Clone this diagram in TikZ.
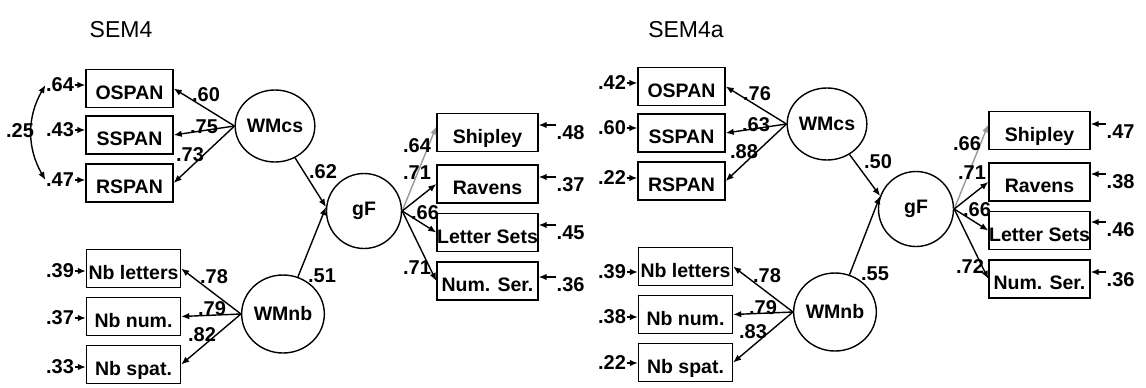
\documentclass[tikz,border=0pt]{standalone}
\usepackage{fontspec}
\setmainfont{Liberation Sans}
\usetikzlibrary{arrows.meta, shapes.geometric}

\begin{document}
\begin{tikzpicture}[x=1pt, y=-1pt, >={Latex[length=8pt,width=6.5pt]}, line width=1.4pt,
          obs/.style={draw, rectangle, inner xsep=0pt, inner ysep=0pt, minimum height=38pt,
                      text height=29.5pt, text depth=8.5pt, font=\fontsize{19.5}{19.5}\bfseries},
          lat/.style={draw, ellipse, inner sep=0pt, font=\fontsize{19.5}{19.5}\bfseries},
          coef/.style={inner sep=0pt, font=\fontsize{20}{20}\bfseries},
          title/.style={inner sep=0pt, font=\fontsize{23}{23}\selectfont}
        ]
        \useasboundingbox (0,0) rectangle (1146,388);

        % both models share the same layout
        \foreach \p/\dx/\dy/\ga in {L/0/0/174, R/552/-2/160}{
          \begin{scope}[shift={(\dx,\dy)}]
            \node[lat, minimum width=77pt, minimum height=72pt] (\p-cs) at (275,126) {WMcs};
            \node[lat, minimum width=78pt, minimum height=78pt] (\p-nb) at (283,314) {WMnb};
            \node[lat, minimum width=75pt, minimum height=75pt] (\p-gf) at (364,211) {gF};

            \node[obs, minimum width=87pt] (\p-os) at (129.5,88.5) {OSPAN};
            \node[obs, minimum width=87pt] (\p-ss) at (129.5,135)  {SSPAN};
            \node[obs, minimum width=87pt] (\p-rs) at (129.5,183)  {RSPAN};
            \node[obs, minimum width=94pt] (\p-nl) at (133.5,268.5) {Nb letters};
            \node[obs, minimum width=94pt] (\p-nn) at (133.5,316.5) {Nb num.};
            \node[obs, minimum width=94pt] (\p-ns) at (133.5,364.5) {Nb spat.};
            \node[obs, minimum width=101pt] (\p-sh) at (487.5,132.5) {Shipley};
            \node[obs, minimum width=101pt] (\p-ra) at (487.5,184)   {Ravens};
            \node[obs, minimum width=101pt] (\p-ls) at (487.5,232.5) {Letter Sets};
            \node[obs, minimum width=101pt] (\p-nr) at (487.5,281)   {Num. Ser.};

            % loadings
            \foreach \t in {os,ss,rs} \draw[->] (\p-cs.west) -- (\p-\t.east);
            \foreach \t in {nl,nn,ns} \draw[->] (\p-nb.west) -- (\p-\t.east);
            \draw[->, gray!80] (\p-gf.east) -- ([yshift=6pt]\p-sh.west);
            \foreach \t in {ra,ls,nr} \draw[->] (\p-gf.east) -- (\p-\t.west);

            % structural paths
            \draw[->] (\p-cs) -- (\p-gf.\ga);
            \draw[->] (\p-nb) -- (\p-gf.\ga);
          \end{scope}
        }

        % SEM4
        \node[title] (L-title) at (121,30) {SEM4};
        \foreach \n/\x/\y/\v in {os/206/95/.60, ss/204/127/.75, rs/190/155/.73,
                                 nl/214/277/.78, nn/212/309/.79, ns/202/335/.82,
                                 cs/323/172/.62, nb/322/276/.51,
                                 sh/417/146/.64, ra/417/173/.71, ls/425/213/.66, nr/417/268/.71}
          \node[coef] (L-k\n) at (\x,\y) {\v};
        \foreach \n/\y/\v in {os/85/.64, ss/130/.43, rs/180/.47, nl/271/.39, nn/318/.37, ns/367/.33}{
          \node[coef] (L-e\n) at (60,\y) {\v};
          \draw[->] (L-e\n.east) -- (L-e\n.east -| L-\n.west);
        }
        \foreach \n/\y/\v in {sh/125/.48, ra/177/.37, ls/225/.45, nr/277/.36}{
          \node[coef, anchor=north west] (L-e\n) at (556,\y) {\v};
          \draw[->] (L-e\n.north west) -- (L-e\n.north west -| L-\n.east);
        }
        \node[coef] (L-cor) at (20,131) {.25};
        \draw[<->] (L-eos.west) to[out=240, in=120] (L-ers.west);

        % SEM4a
        \node[title] (R-title) at (686,30) {SEM4a};
        \foreach \n/\x/\y/\v in {os/757/94/.76, ss/756/125/.63, rs/744/152/.88,
                                 nl/767/276/.78, nn/763/308/.79, ns/753/332/.83,
                                 cs/878/162/.50, nb/875/274/.55,
                                 sh/967/144/.66, ra/972/173/.71, ls/977/210/.66, nr/970/267/.72}
          \node[coef] (R-k\n) at (\x,\y) {\v};
        \foreach \n/\y/\v in {os/83/.42, ss/128/.60, rs/178/.22, nl/272/.39, nn/317/.38, ns/363/.22}{
          \node[coef] (R-e\n) at (612,\y) {\v};
          \draw[->] (R-e\n.east) -- (R-e\n.east -| R-\n.west);
        }
        \foreach \n/\y/\v in {sh/124/.47, ra/174/.38, ls/222/.46, nr/272/.36}{
          \node[coef, anchor=north west] (R-e\n) at (1106,\y) {\v};
          \draw[->] (R-e\n.north west) -- (R-e\n.north west -| R-\n.east);
        }
      \end{tikzpicture}
\end{document}
